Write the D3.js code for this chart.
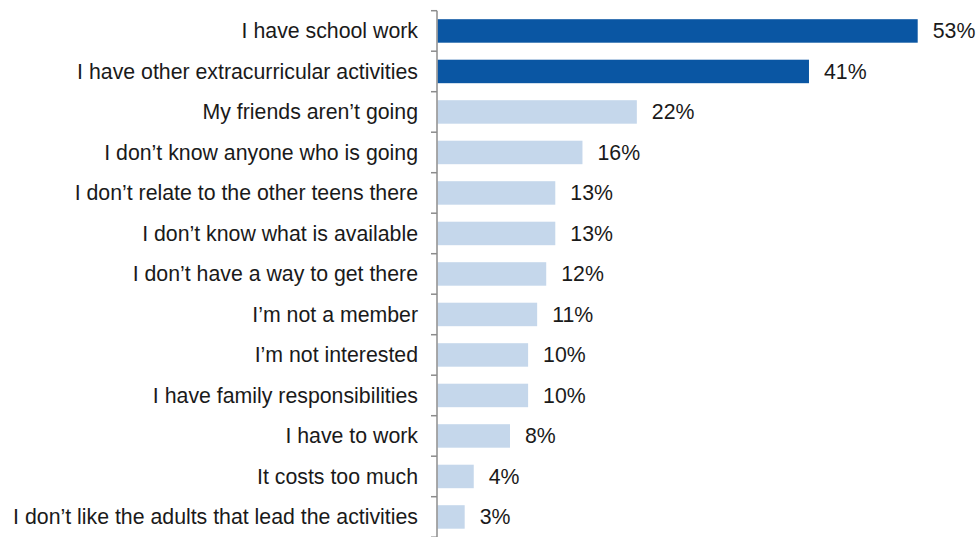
<!DOCTYPE html>
<html>
<head>
<meta charset="utf-8">
<script src="https://cdn.jsdelivr.net/npm/d3@7"></script>
<style>
  body { margin: 0; background: #fff; }
  text { font-family: "Liberation Sans", Arial, sans-serif; }
</style>
</head>
<body>
<script>
// reasons (top to bottom) and share of respondents
var reasons = [
  "I have school work",
  "I have other extracurricular activities",
  "My friends aren\u2019t going",
  "I don\u2019t know anyone who is going",
  "I don\u2019t relate to the other teens there",
  "I don\u2019t know what is available",
  "I don\u2019t have a way to get there",
  "I\u2019m not a member",
  "I\u2019m not interested",
  "I have family responsibilities",
  "I have to work",
  "It costs too much",
  "I don\u2019t like the adults that lead the activities"
];
var shares = [53, 41, 22, 16, 13, 13, 12, 11, 10, 10, 8, 4, 3];
var highlighted = [true, true, false, false, false, false, false, false, false, false, false, false, false];

var width = 978, height = 537;
var axisX = 437;

var svg = d3.select("body")
  .append("svg")
  .attr("width", width)
  .attr("height", height);

var data = reasons.map(function(r, i) {
  return { reason: r, share: shares[i], hi: highlighted[i] };
});

var yScale = d3.scaleBand()
  .domain(reasons)
  .range([10.7, 537.2])
  .paddingInner(0.42)
  .paddingOuter(0.21);

var xScale = d3.scaleLinear()
  .domain([0, 53])
  .range([axisX + 0.5, 917.7]);

// bars
svg.selectAll("rect.bar")
  .data(data)
  .enter()
  .append("rect")
  .attr("class", "bar")
  .attr("x", xScale(0))
  .attr("y", function(d) { return yScale(d.reason); })
  .attr("width", function(d) { return xScale(d.share) - xScale(0); })
  .attr("height", yScale.bandwidth())
  .attr("fill", function(d) { return d.hi ? "#0A56A3" : "#C5D7EB"; });

// value labels
svg.selectAll("text.value")
  .data(data)
  .enter()
  .append("text")
  .attr("class", "value")
  .attr("x", function(d) { return xScale(d.share) + 15; })
  .attr("y", function(d) { return yScale(d.reason) + yScale.bandwidth() / 2; })
  .attr("dy", "0.35em")
  .attr("font-size", "21.3px")
  .attr("fill", "#1a1a1a")
  .text(function(d) { return d.share + "%"; });

// category axis with ticks between bands
var axisG = svg.append("g");
axisG.append("line")
  .attr("x1", axisX).attr("x2", axisX)
  .attr("y1", 10.7).attr("y2", 537.2)
  .attr("stroke", "#8c8c8c")
  .attr("stroke-width", 1.5);

var step = yScale.step();
var bounds = d3.range(reasons.length + 1).map(function(i) { return 10.7 + i * step; });
axisG.selectAll("line.tick")
  .data(bounds)
  .enter()
  .append("line")
  .attr("class", "tick")
  .attr("x1", axisX - 6).attr("x2", axisX)
  .attr("y1", function(d) { return d; })
  .attr("y2", function(d) { return d; })
  .attr("stroke", "#8c8c8c")
  .attr("stroke-width", 1.5);

svg.selectAll("text.cat")
  .data(data)
  .enter()
  .append("text")
  .attr("class", "cat")
  .attr("x", 418)
  .attr("y", function(d) { return yScale(d.reason) + yScale.bandwidth() / 2; })
  .attr("dy", "0.35em")
  .attr("text-anchor", "end")
  .attr("font-size", "21.3px")
  .attr("fill", "#1a1a1a")
  .text(function(d) { return d.reason; });
</script>
</body>
</html>
